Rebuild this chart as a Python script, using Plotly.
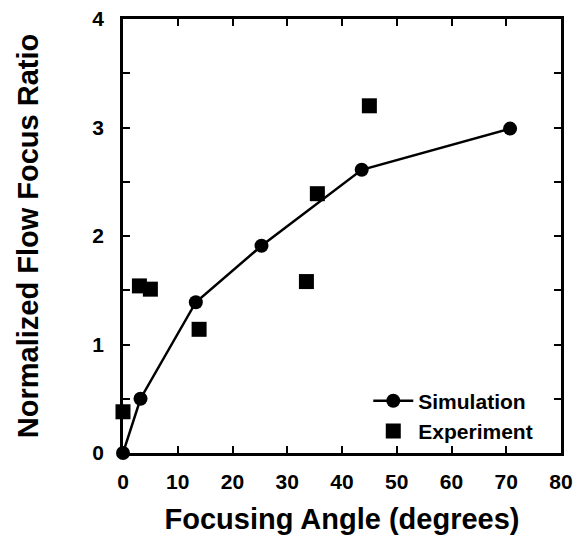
import plotly.graph_objects as go

sim_angle = [0, 3.2, 13.3, 25.3, 43.6, 70.7]
sim_ratio = [0.0, 0.50, 1.39, 1.91, 2.61, 2.99]

exp_angle = [0, 3.0, 5.0, 13.9, 33.5, 35.5, 45.0]
exp_ratio = [0.38, 1.54, 1.51, 1.14, 1.58, 2.39, 3.20]

x_ticks = [0, 10, 20, 30, 40, 50, 60, 70, 80]
y_ticks = [0, 0.5, 1, 1.5, 2, 2.5, 3, 3.5, 4]
y_ticktext = ["0", "", "1", "", "2", "", "3", "", "4"]

FONT = "Liberation Sans, Arial, sans-serif"

fig = go.Figure()
fig.add_trace(go.Scatter(
    x=sim_angle, y=sim_ratio, mode="lines+markers", name="Simulation",
    line=dict(color="black", width=2.5),
    marker=dict(symbol="circle", size=14, color="black"),
    cliponaxis=False,
))
fig.add_trace(go.Scatter(
    x=exp_angle, y=exp_ratio, mode="markers", name="Experiment",
    marker=dict(symbol="square", size=15, color="black"),
    cliponaxis=False,
))

axis_common = dict(
    showline=True, linecolor="black", linewidth=2.7, mirror="ticks",
    ticks="inside", ticklen=7, tickwidth=2, tickcolor="black",
    showgrid=False, zeroline=False, automargin=False,
    tickfont=dict(family=FONT, size=21, color="black", weight="bold"),
)

fig.update_xaxes(
    range=[0, 80], tickvals=x_ticks, ticktext=[str(v) for v in x_ticks],
    title=dict(text="<b>Focusing Angle (degrees)</b>", standoff=17,
               font=dict(family=FONT, size=29, color="black")),
    ticklabelstandoff=8,
    **axis_common,
)
fig.update_yaxes(
    range=[0, 4], tickvals=y_ticks, ticktext=y_ticktext,
    title=dict(text="<b>Normalized Flow Focus Ratio</b>", standoff=46,
               font=dict(family=FONT, size=29, color="black")),
    ticklabelstandoff=12,
    **axis_common,
)

fig.update_layout(
    width=582, height=535,
    margin=dict(l=123, r=21, t=19, b=82),
    plot_bgcolor="white", paper_bgcolor="white",
    showlegend=True,
    legend=dict(
        x=0.56, y=0.085, xanchor="left", yanchor="middle",
        bgcolor="rgba(0,0,0,0)",
        font=dict(family=FONT, size=21, color="black", weight="bold"),
        tracegroupgap=0, itemwidth=40,
    ),
    font=dict(family=FONT, color="black"),
)

fig.write_html("out.html", config={"displayModeBar": False},
               post_script="document.body.style.margin='0';document.body.style.overflow='hidden';")
